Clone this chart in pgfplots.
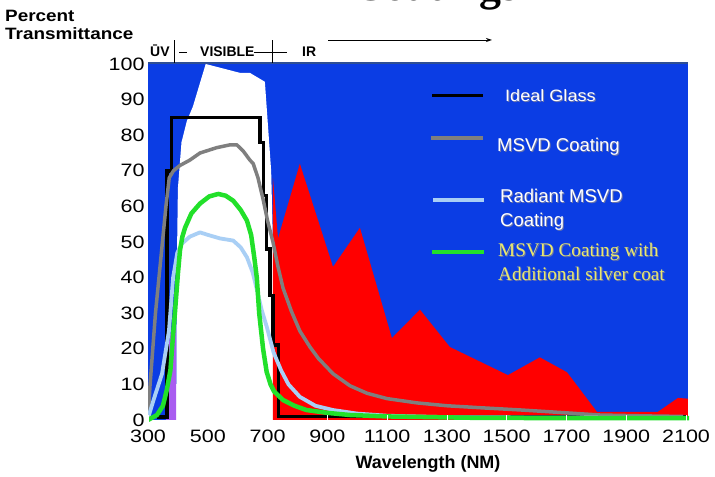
\documentclass[border=0pt]{standalone}
\usepackage{fontspec}
\setmainfont{Liberation Sans}
\newfontfamily\serif{Liberation Serif}
\usepackage{graphicx}
\usepackage{pgfplots}
\pgfplotsset{compat=1.18}
\usetikzlibrary{arrows.meta}

\definecolor{bgblue}{HTML}{0B3DE4}
\definecolor{irred}{HTML}{FF0000}
\definecolor{uvpurple}{HTML}{A95CF0}
\definecolor{msvdgray}{HTML}{7F7F7F}
\definecolor{radblue}{HTML}{A9CFF5}
\definecolor{silvgreen}{HTML}{22E02A}
\definecolor{legyellow}{HTML}{E9E86E}
\definecolor{topline}{HTML}{2E4F94}
\definecolor{shadow}{HTML}{6A74A8}

\newcommand\fs[1]{\fontsize{#1}{#1}\selectfont}
\newcommand\wide[2][1.2]{\scalebox{#1}[1]{#2}}
% white legend text with a soft shadow
\newcommand\legtext[3]{%
  \node[anchor=base west,inner sep=0,text=shadow] at (#1+1,#2-1) {#3};
  \node[anchor=base west,inner sep=0,text=white] at (#1,#2) {#3};}

\begin{document}
\begin{tikzpicture}[x=1bp,y=1bp]
\useasboundingbox (0,0) rectangle (715,477);

\begin{axis}[
  at={(148bp,51.66bp)}, anchor=south west,
  scale only axis, width=541bp, height=361.34bp,
  xmin=300, xmax=2110, ymin=-1.5, ymax=100,
  xtick={300,500,...,2100}, ytick={0,10,...,100},
  axis line style={draw=none},
  ytick style={draw=none},
  xtick style={draw=white, line width=0.6bp},
  xtick pos=bottom, tick align=inside, major tick length=10bp,
  /pgf/number format/1000 sep={},
  /pgf/number format/assume math mode=true,
  xticklabel={\wide{\pgfmathprintnumber{\tick}}},
  yticklabel={\wide{\pgfmathprintnumber{\tick}}},
  tick label style={font=\fs{18}},
  xticklabel style={yshift=-1bp},
  axis on top,
]
% background
\addplot[fill=bgblue, draw=none] coordinates {(300,0) (2106,0) (2106,100) (300,100)} -- cycle;
% visible band
\addplot[fill=white, draw=none] coordinates {
  (394,0) (396,40) (400,65) (412,78) (430,84) (450,88) (493,100)
  (608,97.5) (641,97.5) (691,95) (712,70) (718,50) (718,0)} -- cycle;
% UV band
\addplot[fill=uvpurple, draw=none] coordinates {
  (360,0) (372,24) (394,26) (394,0)} -- cycle;
% IR band
\addplot[fill=irred, draw=none] coordinates {
  (718,0) (718,68) (735,51) (808,72) (919,43) (1009,54) (1116,23) (1210,31)
  (1310,20.5) (1504,12.6) (1611,17.6) (1702,13.4) (1802,2.3) (2006,2.3)
  (2073,6.2) (2106,6) (2106,0)} -- cycle;

% Ideal Glass
\addplot[black, line width=3.5bp, line join=miter] coordinates {
  (330,0.8) (364,0.8) (364,70) (378,70) (378,85) (675,85) (675,78) (686,78)
  (686,63) (697,63) (697,48) (708,48) (708,35) (719,35) (719,21) (736,21)
  (736,1) (2100,1)};
% MSVD Coating
\addplot[msvdgray, line width=3.5bp, line join=round] coordinates {
  (300,0.5) (307,10) (325,30) (346,48) (360,60) (371,68) (385,70) (407,71.5)
  (440,73) (474,75) (530,76.5) (575,77.3) (597,77.3) (618,75.6) (641,73)
  (652,72) (668,68) (685,62) (700,56) (718,50) (735,43) (752,37) (780,30.5)
  (808,25) (842,20.5) (870,17.3) (919,13) (976,9.6) (1033,7.5) (1100,6)
  (1200,4.8) (1300,4) (1421,3.4) (1550,2.8) (1645,2.3) (1812,1.4) (2000,1.1)
  (2090,1)};
% Radiant MSVD Coating
\addplot[radblue, line width=3.8bp, line join=round] coordinates {
  (300,0.5) (320,6) (347,13) (370,25) (384,40) (398,47) (413,49.5) (440,51.5)
  (474,52.7) (500,52) (541,51) (585,50.4) (610,48.5) (631,45.7) (650,41.5)
  (665,36.4) (680,31) (698,26) (720,19) (745,14) (770,10) (808,6.5) (860,4)
  (919,2.8) (1000,1.8) (1100,1.2) (1300,0.8) (1600,0.7) (2100,0.6)};
% MSVD Coating with additional silver coat
\addplot[silvgreen, line width=4.5bp, line join=round, line cap=round] coordinates {
  (300,0) (330,1.4) (350,4) (363,8.5) (375,14) (384,24) (390,30) (400,41)
  (407,47.6) (415,51.5) (424,54) (445,58) (474,60.8) (505,62.8) (535,63.5)
  (560,63) (585,61.6) (610,59) (631,56) (645,52) (655,46) (664,40) (672,30)
  (685,20) (697,13.5) (710,10) (722,8) (752,5.6) (790,4) (830,2.8) (900,2)
  (976,1.4) (1100,1) (1400,0.6) (1800,0.5) (2112,0.5)};
\end{axis}

% top edge and spectral band labels
\draw[topline, line width=1.5bp] (148,414) -- (688,414);
\node[anchor=base west, inner sep=0, font=\fs{14}\bfseries] at (150,420) {ŪV};
\node[anchor=base west, inner sep=0, font=\fs{14}\bfseries] at (200,420) {VISIBLE};
\node[anchor=base west, inner sep=0, font=\fs{14}\bfseries] at (302,420) {IR};
\draw[line width=0.6bp] (174,414) -- (174,437);
\draw[line width=0.6bp] (272,414) -- (272,437);
\draw[line width=0.6bp] (179,425) -- (187,425);
\draw[line width=0.6bp] (254,425) -- (287,425);
\draw[line width=0.8bp, -{Stealth[length=6bp,width=4bp]}] (328,437) -- (492,437);

% title, mostly cut off by the page edge
\node[anchor=base west, inner sep=0, font=\serif\bfseries\fs{44}] at (353,476.5) {Coatings};

% axis titles
\node[anchor=base west, inner sep=0, font=\fs{16.5}\bfseries] at (5,455) {\wide[1.15]{Percent}};
\node[anchor=base west, inner sep=0, font=\fs{16.5}\bfseries] at (5,437) {\wide[1.15]{Transmittance}};
\node[anchor=base, inner sep=0, font=\fs{18}\bfseries] at (428,8) {Wavelength (NM)};

% legend
\draw[black, line width=3bp] (432,381) -- (483,381);
\draw[msvdgray, line width=3.5bp] (431,339) -- (483,339);
\draw[radblue, line width=3.5bp] (433,277) -- (484,277);
\draw[silvgreen, line width=4bp] (432,225) -- (484,225);
\begingroup
\fs{16.5}
\legtext{505}{375}{\wide[1.1]{Ideal Glass}}
\fs{18.6}
\legtext{497}{325}{MSVD Coating}
\legtext{500}{274}{Radiant MSVD}
\legtext{500}{250}{Coating}
\endgroup
\node[anchor=base west, inner sep=0, font=\serif\fs{19.3}, text=shadow] at (499,219) {MSVD Coating with};
\node[anchor=base west, inner sep=0, font=\serif\fs{19.3}, text=legyellow] at (498,220) {MSVD Coating with};
\node[anchor=base west, inner sep=0, font=\serif\fs{19.3}, text=shadow] at (499,195) {Additional silver coat};
\node[anchor=base west, inner sep=0, font=\serif\fs{19.3}, text=legyellow] at (498,196) {Additional silver coat};
\end{tikzpicture}
\end{document}
